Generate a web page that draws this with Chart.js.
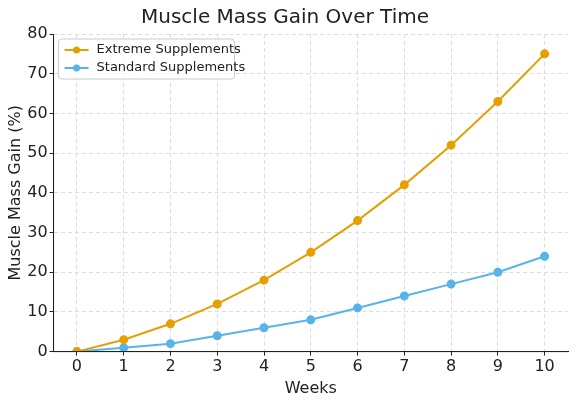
<!DOCTYPE html>
<html><head><meta charset="utf-8">
<script src="https://cdn.jsdelivr.net/npm/chart.js@4"></script>
<style>html,body{margin:0;padding:0;background:#fff}#w{width:576px;height:408px}</style>
</head><body><div id="w"><canvas id="c"></canvas></div>
<script>
const weeks = [0,1,2,3,4,5,6,7,8,9,10];
const extreme = [0,3,7,12,18,25,33,42,52,63,75];
const standard = [0,1,2,4,6,8,11,14,17,20,24];
const xTicks = [0,1,2,3,4,5,6,7,8,9,10];
const yTicks = [0,10,20,30,40,50,60,70,80];
const font = "'DejaVu Sans', sans-serif";
new Chart(document.getElementById('c'), {
  type: 'line',
  data: { datasets: [
    { label: 'Extreme Supplements', data: weeks.map((w,i)=>({x:w,y:extreme[i]})), borderColor:'#E69F00', backgroundColor:'#E69F00', borderWidth:2, pointRadius:3.5, pointHoverRadius:3.5 },
    { label: 'Standard Supplements', data: weeks.map((w,i)=>({x:w,y:standard[i]})), borderColor:'#56B4E9', backgroundColor:'#56B4E9', borderWidth:2, pointRadius:3.5, pointHoverRadius:3.5 }
  ]},
  options: {
    responsive:true, maintainAspectRatio:false, animation:false,
    layout:{padding:{left:2,right:8,top:0,bottom:6}},
    plugins:{
      title:{display:true,text:'Muscle Mass Gain Over Time',color:'#222',font:{family:font,size:20,weight:'normal'},padding:{top:6,bottom:4}},
      legend:{display:false}
    },
    scales:{
      x:{type:'linear',min:-0.5,max:10.5,
        afterBuildTicks:a=>{a.ticks=xTicks.map(v=>({value:v}));},
        title:{display:true,text:'Weeks',color:'#222',font:{family:font,size:16},padding:{top:0}},
        ticks:{color:'#222',font:{family:font,size:16},padding:2},
        grid:{color:'#ddd',tickColor:'#222',tickLength:4},
        border:{color:'#222',dash:[4,3]}},
      y:{min:0,max:80,
        afterBuildTicks:a=>{a.ticks=yTicks.map(v=>({value:v}));},
        title:{display:true,text:'Muscle Mass Gain (%)',color:'#222',font:{family:font,size:16},padding:{bottom:0}},
        ticks:{color:'#222',font:{family:font,size:16},padding:2},
        grid:{color:'#ddd',tickColor:'#222',tickLength:4},
        border:{color:'#222',dash:[4,3]}}
    }
  },
  plugins:[{
    id:'legendBox',
    afterDraw(ch){
      const ctx=ch.ctx, a=ch.chartArea;
      ctx.save();
      ctx.strokeStyle='#222';ctx.lineWidth=1;ctx.setLineDash([]);
      ctx.beginPath();ctx.moveTo(a.left,a.top);ctx.lineTo(a.left,a.bottom);ctx.lineTo(a.right,a.bottom);ctx.stroke();
      const x=a.left+5, y=a.top+5, w=176, h=40;
      ctx.fillStyle='rgba(255,255,255,0.85)';ctx.strokeStyle='#ccc';
      ctx.beginPath();ctx.roundRect(x,y,w,h,3);ctx.fill();ctx.stroke();
      ch.data.datasets.forEach((d,i)=>{
        const yy=y+11+i*18;
        ctx.strokeStyle=d.borderColor;ctx.lineWidth=2;
        ctx.beginPath();ctx.moveTo(x+6,yy);ctx.lineTo(x+30,yy);ctx.stroke();
        ctx.fillStyle=d.borderColor;ctx.beginPath();ctx.arc(x+18,yy,3.5,0,Math.PI*2);ctx.fill();
        ctx.fillStyle='#222';ctx.font="13px "+font;ctx.textBaseline='middle';
        ctx.fillText(d.label,x+38,yy);
      });
      ctx.restore();
    }
  }]
});
</script></body></html>
